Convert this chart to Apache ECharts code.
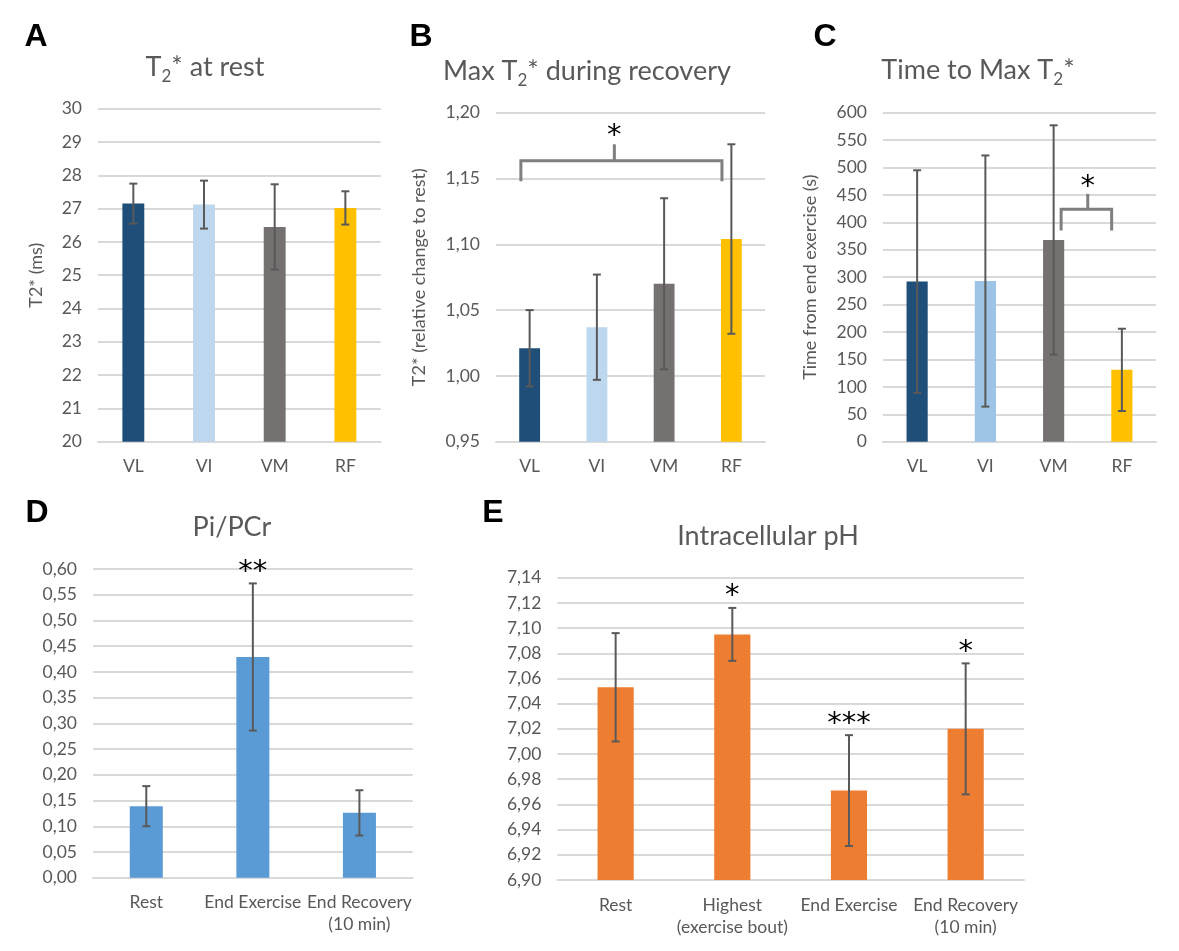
<!DOCTYPE html>
<html><head><meta charset="utf-8">
<script src="https://cdn.jsdelivr.net/npm/echarts@6/dist/echarts.min.js"></script>
<style>html,body{margin:0;padding:0;background:#fff}#c{width:1179px;height:951px}</style>
</head><body><div id="c"></div>
<script>
// ---- categories ----
const muscleCats = ['VL', 'VI', 'VM', 'RF'];
const piPCrCats = ['Rest', 'End Exercise', 'End Recovery\n(10 min)'];
const phCats = ['Rest', 'Highest\n(exercise bout)', 'End Exercise', 'End Recovery\n(10 min)'];

// ---- values (mean, error) ----
const restT2Mean = [27.15, 27.12, 26.45, 27.02];
const restT2Err  = [0.60, 0.72, 1.28, 0.50];
const maxT2Mean  = [1.021, 1.037, 1.070, 1.104];
const maxT2Err   = [0.029, 0.040, 0.065, 0.072];
const timeMaxMean = [292, 293, 368, 131];
const timeMaxErr  = [203, 229, 209, 75];
const piPCrMean  = [0.139, 0.429, 0.126];
const piPCrErr   = [0.039, 0.143, 0.044];
const phMean     = [7.053, 7.095, 6.971, 7.020];
const phErr      = [0.043, 0.021, 0.044, 0.052];

// ---- significance marks ----
const piPCrStars = ['', '**', ''];
const phStars = ['', '*', '***', '*'];
// bracket: [left, mid, right (category positions), bar level, end level, tick level, star level]
const bracketB = [-0.13, 1.26, 2.86, 1.1635, 1.148, 1.176, 1.187];
const bracketC = [2.11, 2.5, 2.85, 424, 385, 452, 477];

// ---- axis ranges [min, max, interval, decimals] ----
const axisA = [20, 30, 1, 0];
const axisB = [0.95, 1.20, 0.05, 2];
const axisC = [0, 600, 50, 0];
const axisD = [0, 0.60, 0.05, 2];
const axisE = [6.90, 7.14, 0.02, 2];

// ---- colours ----
const colorsA = ['#1F4E79', '#BDD7EE', '#767171', '#FFC000'];
const colorsC = ['#1F4E79', '#9DC3E6', '#767171', '#FFC000'];
const colorD = '#5B9BD5';
const colorE = '#ED7D31';

const FONT = 'Lato';
const GREY = '#595959';
const STAR_FONT = '29px "DejaVu Sans"';

const chart = echarts.init(document.getElementById('c'));

function xAx(i, cats) {
  return {
    type: 'category', gridIndex: i, data: cats,
    axisTick: { show: false },
    axisLine: { lineStyle: { color: '#d9d9d9', width: 2 } },
    axisLabel: { color: GREY, fontSize: 17.5, fontFamily: FONT, margin: 14, lineHeight: 22, interval: 0 }
  };
}
function yAx(i, ax, name, gap) {
  return {
    type: 'value', gridIndex: i, min: ax[0], max: ax[1], interval: ax[2],
    axisLine: { show: false }, axisTick: { show: false },
    splitLine: { lineStyle: { color: '#d9d9d9', width: 2 } },
    axisLabel: {
      color: GREY, fontSize: 17.5, fontFamily: FONT, margin: 16,
      formatter: v => v.toFixed(ax[3]).replace('.', ',')
    },
    name: name || '', nameLocation: 'middle', nameGap: gap || 0,
    nameTextStyle: { color: GREY, fontSize: 18, fontFamily: FONT }
  };
}
function bars(i, means, colors) {
  return {
    type: 'bar', xAxisIndex: i, yAxisIndex: i, barWidth: '31%', z: 2,
    data: means.map((v, k) => ({ value: v, itemStyle: { color: Array.isArray(colors) ? colors[k] : colors } }))
  };
}
function errBars(i, means, errs, stars) {
  return {
    type: 'custom', xAxisIndex: i, yAxisIndex: i, z: 5,
    encode: { x: 0, y: [1, 2] },
    data: means.map((m, k) => [k, m - errs[k], m + errs[k]]),
    renderItem: function (params, api) {
      const x = api.value(0);
      const lo = api.coord([x, api.value(1)]);
      const hi = api.coord([x, api.value(2)]);
      const w = 4;
      const st = { stroke: '#595959', lineWidth: 2 };
      const ch = [
        { type: 'line', shape: { x1: lo[0], y1: lo[1], x2: hi[0], y2: hi[1] }, style: st },
        { type: 'line', shape: { x1: hi[0] - w, y1: hi[1], x2: hi[0] + w, y2: hi[1] }, style: st },
        { type: 'line', shape: { x1: lo[0] - w, y1: lo[1], x2: lo[0] + w, y2: lo[1] }, style: st }
      ];
      const s = stars ? stars[params.dataIndex] : '';
      if (s) {
        ch.push({ type: 'text', style: { text: s, x: hi[0], y: hi[1] - 18 + 7, align: 'center', verticalAlign: 'middle',
          font: STAR_FONT, fill: '#000' } });
      }
      return { type: 'group', children: ch };
    }
  };
}
function bracket(i, b) {
  return {
    type: 'custom', xAxisIndex: i, yAxisIndex: i, z: 6,
    encode: { x: 0, y: 1 },
    data: [[0, b[3], b[0], b[1], b[2], b[4], b[5], b[6]]],
    renderItem: function (params, api) {
      const p0 = api.coord([0, api.value(1)]);
      const bw = api.size([1, 0])[0];
      const xl = p0[0] + api.value(2) * bw;
      const xm = p0[0] + api.value(3) * bw;
      const xr = p0[0] + api.value(4) * bw;
      const yb = p0[1];
      const ye = api.coord([0, api.value(5)])[1];
      const yt = api.coord([0, api.value(6)])[1];
      const ys = api.coord([0, api.value(7)])[1];
      const st = { stroke: '#7F7F7F', lineWidth: 3, fill: null };
      return {
        type: 'group', children: [
          { type: 'polyline', shape: { points: [[xl, ye], [xl, yb], [xr, yb], [xr, ye]] }, style: st },
          { type: 'line', shape: { x1: xm, y1: yb, x2: xm, y2: yt }, style: st },
          { type: 'text', style: { text: '*', x: xm, y: ys + 7, align: 'center', verticalAlign: 'middle', font: STAR_FONT, fill: '#000' } }
        ]
      };
    }
  };
}

const titleRich = {
  m: { fontSize: 27, fontFamily: FONT, fill: GREY, lineHeight: 36, verticalAlign: 'middle' },
  s: { fontSize: 17, fontFamily: FONT, fill: GREY, lineHeight: 17, verticalAlign: 'bottom' }
};
function title(x, y, text) {
  return { type: 'text', x: x, y: y, z: 10,
    style: { text: text, rich: titleRich, align: 'center', verticalAlign: 'middle', fill: GREY, font: '27px ' + FONT } };
}
function letter(x, y, t) {
  return { type: 'text', x: x, y: y, z: 10,
    style: { text: t, align: 'center', verticalAlign: 'middle', fill: '#000', font: 'bold 32px "Liberation Sans"' } };
}

chart.setOption({
  animation: false,
  textStyle: { fontFamily: FONT },
  grid: [
    { left: 98, top: 108.7, width: 282.7, height: 333 },
    { left: 496, top: 112.7, width: 269, height: 329 },
    { left: 883, top: 112.7, width: 273, height: 329 },
    { left: 93, top: 569, width: 319.7, height: 308.7 },
    { left: 557.3, top: 577.7, width: 466.7, height: 302.3 }
  ],
  xAxis: [xAx(0, muscleCats), xAx(1, muscleCats), xAx(2, muscleCats), xAx(3, piPCrCats), xAx(4, phCats)],
  yAxis: [
    yAx(0, axisA, 'T2* (ms)', 53),
    yAx(1, axisB, 'T2* (relative change to rest)', 68),
    yAx(2, axisC, 'Time from end exercise (s)', 64),
    yAx(3, axisD),
    yAx(4, axisE)
  ],
  series: [
    bars(0, restT2Mean, colorsA), errBars(0, restT2Mean, restT2Err),
    bars(1, maxT2Mean, colorsA), errBars(1, maxT2Mean, maxT2Err), bracket(1, bracketB),
    bars(2, timeMaxMean, colorsC), errBars(2, timeMaxMean, timeMaxErr), bracket(2, bracketC),
    bars(3, piPCrMean, colorD), errBars(3, piPCrMean, piPCrErr, piPCrStars),
    bars(4, phMean, colorE), errBars(4, phMean, phErr, phStars)
  ],
  graphic: [
    letter(36, 37, 'A'), letter(421, 37, 'B'), letter(825, 37, 'C'), letter(37, 513, 'D'), letter(493, 513, 'E'),
    title(205, 67, '{m|T}{s|2}{m|* at rest}'),
    title(587, 71, '{m|Max T}{s|2}{m|* during recovery}'),
    title(978, 70, '{m|Time to Max T}{s|2}{m|*}'),
    title(232, 527, '{m|Pi/PCr}'),
    title(768, 536, '{m|Intracellular pH}')
  ]
});
</script>
</body></html>
